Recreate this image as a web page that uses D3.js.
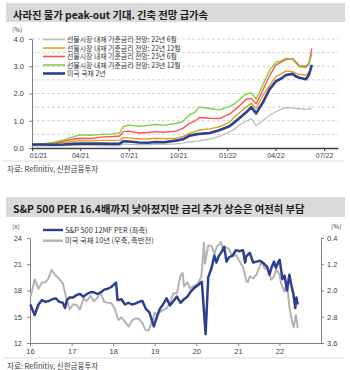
<!DOCTYPE html>
<html>
<head>
<meta charset="utf-8">
<script src="https://cdn.jsdelivr.net/npm/d3@7"></script>
<style>
  body { margin: 0; background: #fff; }
  svg { display: block; font-family: "Noto Sans CJK KR", "Noto Sans", sans-serif; }
  .tick text { font-family: "Liberation Sans", Arial, sans-serif; }
</style>
</head>
<body>
<svg id="chart" width="350" height="370"></svg>
<script>
// ---- chart 1 data: implied policy rate expectations vs US 2y ----
var rateDates = ["2021-01-01","2021-01-20","2021-02-10","2021-03-01","2021-03-20","2021-04-01","2021-04-20","2021-05-10","2021-06-01","2021-06-14",
                 "2021-06-21","2021-07-01","2021-07-20","2021-08-05","2021-08-20","2021-09-05","2021-09-27","2021-10-10","2021-10-22","2021-11-01",
                 "2021-11-10","2021-11-29","2021-12-17","2022-01-05","2022-01-15","2022-01-24","2022-02-05","2022-02-15","2022-02-24","2022-03-08",
                 "2022-03-21","2022-04-02","2022-04-12","2022-04-21","2022-05-03","2022-05-10","2022-05-16","2022-05-28","2022-06-03","2022-06-08"];
var fut22Jun = [0.08,0.08,0.08,0.09,0.10,0.10,0.10,0.09,0.09,0.09,0.14,0.13,0.12,0.12,0.13,0.13,0.15,0.18,0.22,0.24,
                0.26,0.33,0.43,0.58,0.70,0.85,0.98,1.08,0.82,1.00,1.20,1.33,1.42,1.48,1.47,1.45,1.44,1.42,1.43,1.46];
var fut22Dec = [0.10,0.12,0.14,0.20,0.25,0.27,0.26,0.28,0.28,0.29,0.38,0.37,0.33,0.33,0.36,0.34,0.36,0.42,0.54,0.60,
                0.66,0.70,0.78,0.94,1.15,1.30,1.50,1.64,1.45,1.90,2.30,2.62,2.72,2.83,2.80,2.74,2.70,2.68,2.78,2.98];
var fut23Jun = [0.11,0.14,0.18,0.25,0.33,0.36,0.35,0.40,0.42,0.44,0.60,0.62,0.55,0.57,0.60,0.58,0.62,0.72,0.90,0.98,
                1.12,1.09,1.08,1.24,1.40,1.55,1.78,1.82,1.62,2.10,2.65,3.05,3.15,3.25,3.28,3.15,3.02,3.00,3.12,3.65];
var fut23Dec = [0.12,0.15,0.20,0.30,0.42,0.48,0.47,0.50,0.52,0.56,0.80,0.84,0.80,0.83,0.86,0.84,0.90,0.97,1.22,1.30,
                1.50,1.45,1.40,1.52,1.62,1.78,1.98,2.02,1.80,2.30,2.85,3.15,3.20,3.30,3.25,3.10,2.98,2.95,3.08,3.45];
var ust2y    = [0.13,0.13,0.12,0.13,0.15,0.16,0.16,0.16,0.15,0.16,0.25,0.24,0.20,0.19,0.22,0.21,0.27,0.32,0.45,0.49,
                0.52,0.55,0.65,0.80,0.95,1.10,1.30,1.50,1.27,1.65,2.15,2.45,2.55,2.68,2.72,2.62,2.58,2.52,2.70,3.05];
var rateNames = ["선물시장 내재 기준금리 전망: 22년 6월", "선물시장 내재 기준금리 전망: 22년 12월",
                 "선물시장 내재 기준금리 전망: 23년 6월", "선물시장 내재 기준금리 전망: 23년 12월", "미국 국채 2년"];
var rateTicks = [0, 1, 2, 3, 4];

// ---- chart 2 data: S&P 500 forward PER vs US 10y ----
var perDates = ["2016-01-04","2016-02-11","2016-03-15","2016-04-15","2016-05-15","2016-06-15","2016-07-15","2016-08-15","2016-09-15","2016-10-15",
                "2016-11-04","2016-11-20","2016-12-15","2017-01-15","2017-02-15","2017-03-15","2017-04-15","2017-05-15","2017-06-15","2017-07-15",
                "2017-08-15","2017-09-15","2017-10-15","2017-11-15","2017-12-15","2018-01-26","2018-02-08","2018-03-15","2018-04-15","2018-05-15",
                "2018-06-15","2018-07-15","2018-08-15","2018-09-15","2018-10-15","2018-11-15","2018-12-24","2019-01-15","2019-02-15","2019-03-15",
                "2019-04-15","2019-05-15","2019-06-15","2019-07-15","2019-08-15","2019-09-15","2019-10-15","2019-11-15","2019-12-15","2020-01-15",
                "2020-02-19","2020-03-23","2020-04-15","2020-05-15","2020-06-08","2020-06-26","2020-07-15","2020-08-15","2020-09-02","2020-09-23",
                "2020-10-15","2020-11-15","2020-12-15","2021-01-15","2021-02-15","2021-03-05","2021-03-15","2021-04-15","2021-05-15","2021-06-15",
                "2021-07-15","2021-08-15","2021-09-15","2021-10-05","2021-10-25","2021-11-15","2021-12-01","2021-12-27","2022-01-03","2022-01-27",
                "2022-02-15","2022-03-08","2022-03-29","2022-04-15","2022-05-02","2022-05-20","2022-05-30","2022-06-10"];
var perValues = [16.4,15.2,16.4,16.9,16.7,16.8,17.0,17.1,16.7,16.6,
                 16.0,16.9,17.2,17.2,17.5,17.6,17.3,17.6,17.8,17.8,
                 17.6,17.8,18.1,18.2,18.4,18.9,16.9,17.0,16.4,16.6,
                 16.4,16.5,16.7,16.8,15.9,15.5,13.9,14.8,15.9,16.4,
                 17.1,16.3,16.8,17.3,16.6,17.0,17.3,17.9,18.3,18.6,
                 19.0,13.0,19.5,20.6,22.0,21.2,21.9,22.5,23.0,21.3,
                 21.8,22.0,22.6,22.5,22.6,21.2,21.9,22.3,21.2,21.3,
                 21.4,21.1,20.7,19.8,20.7,21.3,20.6,21.4,21.5,19.3,
                 19.7,18.0,19.8,18.6,17.7,16.0,17.2,16.4];
var ustDates = ["2016-01-04","2016-01-20","2016-02-11","2016-03-15","2016-04-15","2016-05-15","2016-06-10","2016-07-08","2016-08-15","2016-09-15",
                "2016-10-15","2016-11-15","2016-12-15","2017-01-15","2017-02-15","2017-03-15","2017-04-15","2017-05-15","2017-06-15","2017-07-15",
                "2017-08-15","2017-09-08","2017-10-15","2017-11-15","2017-12-15","2018-01-15","2018-02-15","2018-03-15","2018-04-25","2018-05-17",
                "2018-06-15","2018-07-15","2018-08-15","2018-09-15","2018-10-10","2018-11-08","2018-12-15","2018-12-31","2019-01-15","2019-02-15",
                "2019-03-15","2019-04-15","2019-05-15","2019-06-15","2019-07-15","2019-08-15","2019-09-03","2019-09-15","2019-10-15","2019-11-08",
                "2019-12-15","2020-01-15","2020-02-15","2020-03-09","2020-03-18","2020-04-15","2020-05-15","2020-06-08","2020-06-30","2020-07-15",
                "2020-08-04","2020-08-25","2020-09-15","2020-10-15","2020-11-10","2020-12-15","2021-01-15","2021-02-15","2021-03-19","2021-03-31",
                "2021-04-15","2021-05-15","2021-06-15","2021-07-19","2021-08-04","2021-08-25","2021-09-15","2021-10-21","2021-11-15","2021-12-03",
                "2021-12-31","2022-01-15","2022-02-15","2022-03-07","2022-03-28","2022-04-15","2022-05-06","2022-05-25","2022-06-03","2022-06-10"];
var ustValues = [2.20,2.00,1.66,1.95,1.76,1.75,1.64,1.37,1.55,1.65,
                 1.78,2.22,2.58,2.42,2.45,2.58,2.25,2.32,2.16,2.33,
                 2.22,2.05,2.35,2.37,2.38,2.55,2.90,2.82,3.00,3.10,
                 2.92,2.85,2.87,2.99,3.20,3.22,2.89,2.68,2.71,2.66,
                 2.59,2.55,2.38,2.08,2.08,1.55,1.46,1.87,1.75,1.94,
                 1.85,1.79,1.58,0.54,1.18,0.63,0.64,0.88,0.66,0.62,
                 0.52,0.77,0.68,0.73,0.97,0.92,1.10,1.30,1.73,1.74,
                 1.57,1.63,1.50,1.19,1.17,1.34,1.30,1.67,1.58,1.35,
                 1.51,1.78,2.04,1.73,2.47,2.83,3.12,2.75,2.94,3.15];
var perNames = ["S&P 500  12MF PER (좌축)", "미국 국채 10년 (우축, 축반전)"];
var perTicks = [12, 15, 18, 21, 24];
var ustTicks = [0.4, 1.2, 2.0, 2.8, 3.6];

var parse = d3.timeParse("%Y-%m-%d");
var svg = d3.select("#chart");
svg.append("rect").attr("width", 350).attr("height", 370).attr("fill", "#fff");

function titleBar(y, h, label) {
    svg.append("rect").attr("x", 6).attr("y", y).attr("width", 339).attr("height", h).attr("fill", "#d9d9d9");
    svg.append("text").attr("x", 13).attr("y", y + 15.5)
        .style("font-size", "10.3px").style("font-weight", "bold").attr("fill", "#1a1a1a")
        .text(label);
}

function styleAxis(g, color, size) {
    g.select(".domain").attr("stroke", color);
    g.selectAll(".tick line").attr("stroke", color);
    g.selectAll(".tick text").attr("fill", "#404040").style("font-size", size);
}

function source(y) {
    svg.append("line").attr("x1", 3).attr("x2", 344).attr("y1", y).attr("y2", y)
        .attr("stroke", "#d0d0d0").attr("stroke-width", 0.8);
    svg.append("text").attr("x", 7).attr("y", y + 10.5)
        .style("font-size", "7.5px").attr("fill", "#404040")
        .text("자료: Refinitiv, 신한금융투자");
}

// ================= chart 1 =================
titleBar(3, 19, "사라진 물가 peak-out 기대. 긴축 전망 급가속");

var x1 = d3.scaleTime().domain([new Date(2021, 0, 1), new Date(2022, 6, 27)]).range([32, 338]);
var y1 = d3.scaleLinear().domain([0, 4]).range([148, 39]);

svg.append("g").selectAll("line")
    .data(d3.range(0.5, 4.01, 0.5))
    .enter().append("line")
    .attr("x1", 32).attr("x2", 338)
    .attr("y1", function(d) { return y1(d); })
    .attr("y2", function(d) { return y1(d); })
    .attr("stroke", "#c8c8c8").attr("stroke-width", 0.8).attr("stroke-dasharray", "3,2");

var yAxis1 = svg.append("g").attr("transform", "translate(32,0)")
    .call(d3.axisLeft(y1).tickValues(rateTicks).tickFormat(d3.format(".1f")).tickSize(3).tickSizeOuter(0).tickPadding(5));
styleAxis(yAxis1, "#808080", "7.5px");

var xAxis1 = svg.append("g").attr("transform", "translate(0,148)")
    .call(d3.axisBottom(x1).ticks(d3.timeMonth.every(3)).tickFormat(d3.timeFormat("%m/%y")).tickSize(3).tickSizeOuter(0).tickPadding(2.5));
styleAxis(xAxis1, "#404040", "7px");
xAxis1.select(".domain").attr("stroke-width", 1.3);
xAxis1.selectAll(".tick text").filter(function(d, i) { return i === 0; }).attr("dx", 6);

svg.append("text").attr("x", 12).attr("y", 32).style("font-size", "6.5px").attr("fill", "#404040").text("(%)");

var rateSeries = [fut22Jun, fut22Dec, fut23Jun, fut23Dec, ust2y];
var rateColors = ["#bdbdbd", "#d9a21b", "#ff4f4f", "#7fd13b", "#2e3f8f"];
var rateWidths = [1.3, 1.4, 1.4, 1.4, 2.6];

var line1 = d3.line()
    .x(function(d, i) { return x1(parse(rateDates[i])); })
    .y(function(d) { return y1(d); });

rateSeries.forEach(function(s, k) {
    svg.append("path").datum(s)
        .attr("d", line1)
        .attr("fill", "none")
        .attr("stroke", rateColors[k])
        .attr("stroke-width", rateWidths[k])
        .attr("stroke-linejoin", "round");
});

var legend1 = svg.append("g").selectAll("g")
    .data(rateNames)
    .enter().append("g")
    .attr("transform", function(d, i) { return "translate(43," + (39.5 + i * 8.5) + ")"; });
legend1.append("line").attr("x1", 0).attr("x2", 22)
    .attr("stroke", function(d, i) { return rateColors[i]; })
    .attr("stroke-width", function(d, i) { return i === 4 ? 2.6 : 1.6; });
legend1.append("text").attr("x", 24).attr("y", 2.5)
    .style("font-size", "6.9px").attr("fill", "#333")
    .text(function(d) { return d; });

source(161);

// ================= chart 2 =================
titleBar(197, 20, "S&P 500 PER 16.4배까지 낮아졌지만 금리 추가 상승은 여전히 부담");

var x2 = d3.scaleTime().domain([new Date(2016, 0, 1), new Date(2023, 0, 1)]).range([30, 321]);
var yL = d3.scaleLinear().domain([12, 24]).range([343, 238]);
var yR = d3.scaleLinear().domain([0.4, 3.6]).range([238, 343]);

var axisL = svg.append("g").attr("transform", "translate(30,0)")
    .call(d3.axisLeft(yL).tickValues(perTicks).tickSize(3).tickSizeOuter(0).tickPadding(5));
styleAxis(axisL, "#808080", "7.5px");

var axisR = svg.append("g").attr("transform", "translate(321,0)")
    .call(d3.axisRight(yR).tickValues(ustTicks).tickFormat(d3.format(".1f")).tickSize(3).tickSizeOuter(0).tickPadding(3));
styleAxis(axisR, "#808080", "7.5px");

var axisB = svg.append("g").attr("transform", "translate(0,343)")
    .call(d3.axisBottom(x2).ticks(d3.timeYear.every(1)).tickFormat(d3.timeFormat("%y")).tickSize(3).tickSizeOuter(0).tickPadding(3));
styleAxis(axisB, "#808080", "7.5px");
axisB.selectAll(".tick").filter(function(d) { return d.getFullYear() > 2022; }).remove();

svg.append("text").attr("x", 12).attr("y", 229).style("font-size", "6.5px").attr("fill", "#404040").text("(x)");
svg.append("text").attr("x", 331).attr("y", 229).style("font-size", "6.5px").attr("fill", "#404040").text("(%)");

svg.append("path").datum(ustValues)
    .attr("d", d3.line()
        .x(function(d, i) { return x2(parse(ustDates[i])); })
        .y(function(d) { return yR(d); }))
    .attr("fill", "none").attr("stroke", "#b3b3b3").attr("stroke-width", 2).attr("stroke-linejoin", "round");

svg.append("path").datum(perValues)
    .attr("d", d3.line()
        .x(function(d, i) { return x2(parse(perDates[i])); })
        .y(function(d) { return yL(d); }))
    .attr("fill", "none").attr("stroke", "#2e3f8f").attr("stroke-width", 2.5).attr("stroke-linejoin", "round");

var perColors = ["#2e3f8f", "#b3b3b3"];
var legend2 = svg.append("g").selectAll("g")
    .data(perNames)
    .enter().append("g")
    .attr("transform", function(d, i) { return "translate(43," + (230 + i * 10.7) + ")"; });
legend2.append("line").attr("x1", 0).attr("x2", 20)
    .attr("stroke", function(d, i) { return perColors[i]; })
    .attr("stroke-width", 2.4);
legend2.append("text").attr("x", 22).attr("y", 2.7)
    .style("font-size", "7.3px").attr("fill", "#333")
    .text(function(d) { return d; });

source(358);
</script>
</body>
</html>
